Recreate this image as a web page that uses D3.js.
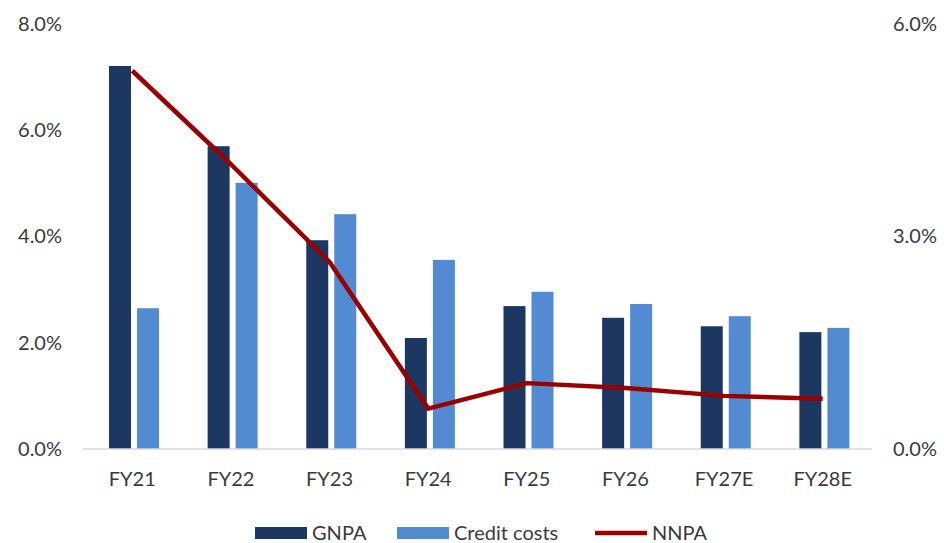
<!DOCTYPE html>
<html>
<head>
<meta charset="utf-8">
<script src="https://cdn.jsdelivr.net/npm/d3@7"></script>
<style>
  html, body { margin: 0; padding: 0; background: #ffffff; }
  svg text { font-family: Lato, "Open Sans", sans-serif; fill: #3a3a3a; }
</style>
</head>
<body>
<svg id="chart" width="944" height="543"></svg>
<script>
// Asset-quality trend: GNPA and credit costs (left axis), NNPA (right axis)
const categories = ["FY21", "FY22", "FY23", "FY24", "FY25", "FY26", "FY27E", "FY28E"];
const gnpa = [7.21, 5.70, 3.93, 2.09, 2.69, 2.47, 2.31, 2.20];
const creditCosts = [2.65, 5.01, 4.42, 3.56, 2.96, 2.73, 2.50, 2.28];
const nnpa = [5.34, 4.02, 2.64, 0.57, 0.93, 0.86, 0.75, 0.71];
const leftTicks = [0, 2, 4, 6, 8];
const rightTicks = [0, 3, 6];

const seriesNames = ["GNPA", "Credit costs", "NNPA"];
const colors = { "GNPA": "#1C3762", "Credit costs": "#538BD3", "NNPA": "#990000" };

const svg = d3.select("#chart");
const plot = { left: 83, right: 872, top: 24, bottom: 449 };
const fontSize = "20px";

const x = d3.scaleBand().domain(categories).range([plot.left, plot.right]).padding(0);
const xInner = d3.scaleBand().domain(["GNPA", "Credit costs"])
  .range([26, 76]).paddingInner(6 / 28).paddingOuter(0);
const yLeft = d3.scaleLinear().domain([0, 8]).range([plot.bottom, plot.top]);
const yRight = d3.scaleLinear().domain([0, 6]).range([plot.bottom, plot.top]);

// Bars
const barData = categories.flatMap((c, i) => [
  { cat: c, key: "GNPA", v: gnpa[i] },
  { cat: c, key: "Credit costs", v: creditCosts[i] }
]);
svg.append("g").selectAll("rect").data(barData).join("rect")
  .attr("x", d => x(d.cat) + xInner(d.key))
  .attr("y", d => yLeft(d.v))
  .attr("width", xInner.bandwidth())
  .attr("height", d => plot.bottom - yLeft(d.v))
  .attr("fill", d => colors[d.key]);

// Baseline
svg.append("line")
  .attr("x1", plot.left).attr("x2", plot.right)
  .attr("y1", plot.bottom).attr("y2", plot.bottom)
  .attr("stroke", "#D9D9D9").attr("stroke-width", 1.5);

// NNPA line
const line = d3.line()
  .x((d, i) => x(categories[i]) + x.bandwidth() / 2)
  .y(d => yRight(d));
svg.append("path").datum(nnpa)
  .attr("d", line)
  .attr("fill", "none")
  .attr("stroke", colors["NNPA"])
  .attr("stroke-width", 4.5)
  .attr("stroke-linejoin", "round");

// Left axis
const fmt = d => d.toFixed(1) + "%";
const axisL = svg.append("g").attr("transform", `translate(62,0)`)
  .call(d3.axisLeft(yLeft).tickValues(leftTicks).tickFormat(fmt).tickSize(0).tickPadding(0));
axisL.select(".domain").remove();
axisL.selectAll("text").style("font-size", fontSize).attr("fill", "#3a3a3a")
  .style("font-family", "Lato, 'Open Sans', sans-serif");

// Right axis
const axisR = svg.append("g").attr("transform", `translate(893,0)`)
  .call(d3.axisRight(yRight).tickValues(rightTicks).tickFormat(fmt).tickSize(0).tickPadding(0));
axisR.select(".domain").remove();
axisR.selectAll("text").style("font-size", fontSize).attr("fill", "#3a3a3a")
  .style("font-family", "Lato, 'Open Sans', sans-serif");

// Category axis
const axisX = svg.append("g").attr("transform", `translate(0,${plot.bottom})`)
  .call(d3.axisBottom(x).tickSize(0).tickPadding(23));
axisX.select(".domain").remove();
axisX.selectAll("text").style("font-size", fontSize).attr("fill", "#3a3a3a")
  .style("font-family", "Lato, 'Open Sans', sans-serif");

// Legend
const legendItems = [
  { name: seriesNames[0], x: 255, type: "rect" },
  { name: seriesNames[1], x: 397, type: "rect" },
  { name: seriesNames[2], x: 595, type: "line" }
];
const lg = svg.append("g");
legendItems.forEach(it => {
  if (it.type === "rect") {
    lg.append("rect").attr("x", it.x).attr("y", 527).attr("width", 52).attr("height", 12)
      .attr("fill", colors[it.name]);
  } else {
    lg.append("line").attr("x1", it.x).attr("x2", it.x + 52).attr("y1", 533).attr("y2", 533)
      .attr("stroke", colors[it.name]).attr("stroke-width", 4.5);
  }
  lg.append("text").attr("x", it.x + 57).attr("y", 533).attr("dy", "0.35em")
    .style("font-size", fontSize).text(it.name);
});
</script>
</body>
</html>
